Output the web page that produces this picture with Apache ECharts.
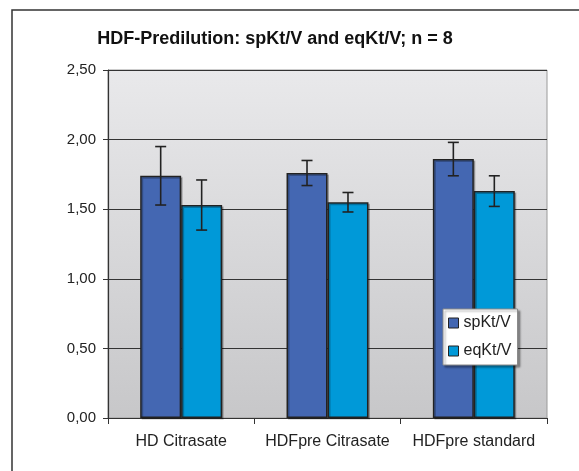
<!DOCTYPE html>
<html><head><meta charset="utf-8">
<script src="https://cdn.jsdelivr.net/npm/echarts@6/dist/echarts.min.js"></script>
<style>html,body{margin:0;padding:0;background:#fff}#c{width:579px;height:471px}</style>
</head><body><div id="c"></div>
<script>
var categories = ['HD Citrasate', 'HDFpre Citrasate', 'HDFpre standard'];
var spKtV = [1.74, 1.76, 1.86];
var spKtVErr = [0.21, 0.09, 0.12];
var eqKtV = [1.53, 1.55, 1.63];
var eqKtVErr = [0.18, 0.07, 0.11];
var yTicks = [0, 0.5, 1.0, 1.5, 2.0, 2.5];

var FONT = 'Liberation Sans, Arial, sans-serif';
var GAP = 0.44;
function errSeries(name, vals, errs, side) {
  return {
    type: 'custom', name: name + ' err', silent: true, z: 10,
    data: vals.map(function (v, i) { return [i, v - errs[i], v + errs[i]]; }),
    renderItem: function (params, api) {
      var bw = api.size([1, 0])[0] * (1 - GAP) / 2;
      var lo = api.coord([api.value(0), api.value(1)]);
      var hi = api.coord([api.value(0), api.value(2)]);
      var x = lo[0] + side * bw / 2;
      var cw = 5.5;
      var st = { stroke: '#222', lineWidth: 1.6 };
      return { type: 'group', children: [
        { type: 'line', shape: { x1: x, y1: lo[1], x2: x, y2: hi[1] }, style: st },
        { type: 'line', shape: { x1: x - cw, y1: lo[1], x2: x + cw, y2: lo[1] }, style: st },
        { type: 'line', shape: { x1: x - cw, y1: hi[1], x2: x + cw, y2: hi[1] }, style: st }
      ]};
    }
  };
}

var chart = echarts.init(document.getElementById('c'));
chart.setOption({
  animation: false,
  textStyle: { fontFamily: FONT },
  graphic: [{
    type: 'rect', z: -10, shape: { x: 12, y: 10, width: 600, height: 500 },
    style: { fill: '#fff', stroke: '#333', lineWidth: 1.5 }
  }],
  title: {
    text: 'HDF-Predilution: spKt/V and eqKt/V; n = 8',
    left: 270, top: 25, textAlign: 'center',
    textStyle: { fontSize: 18, fontWeight: 'bold', color: '#111', fontFamily: FONT }
  },
  grid: {
    left: 108, top: 70, width: 439, height: 348, show: true,
    backgroundColor: new echarts.graphic.LinearGradient(0, 0, 0, 1, [
      { offset: 0, color: '#e9e9eb' }, { offset: 1, color: '#c7c7c9' }]),
    borderColor: '#9a9a9a', borderWidth: 1
  },
  legend: {
    orient: 'vertical', left: 443, top: 309,
    data: ['spKt/V', 'eqKt/V'],
    icon: 'rect',
    itemWidth: 10, itemHeight: 10, itemGap: 12,
    padding: [6, 6, 6, 5],
    backgroundColor: '#fff', borderColor: '#8a8a8a', borderWidth: 1,
    shadowColor: 'rgba(0,0,0,0.35)', shadowOffsetX: 2, shadowOffsetY: 2, shadowBlur: 2,
    textStyle: { fontSize: 16, color: '#222', fontFamily: FONT },
    itemStyle: { borderColor: '#222', borderWidth: 1 }
  },
  xAxis: {
    type: 'category', data: categories, boundaryGap: true,
    axisLine: { lineStyle: { color: '#333', width: 1.2 } },
    axisTick: { show: true, length: 6, lineStyle: { color: '#333' } },
    axisLabel: { fontSize: 16, color: '#222', margin: 16, interval: 0, hideOverlap: false }
  },
  yAxis: {
    type: 'value', min: 0, max: 2.5, interval: 0.5,
    axisLine: { show: true, lineStyle: { color: '#333', width: 1.2 } },
    axisTick: { show: true, length: 5, lineStyle: { color: '#333' } },
    splitLine: { show: true, lineStyle: { color: '#333', width: 1.2 } },
    axisLabel: { fontSize: 15, color: '#222', margin: 12,
      formatter: function (v) { return yTicks.indexOf(v) >= 0 ? v.toFixed(2).replace('.', ',') : ''; } }
  },
  series: [
    { type: 'bar', name: 'spKt/V', data: spKtV, barGap: '0%', barCategoryGap: (GAP * 100) + '%',
      itemStyle: { color: '#4467b2', borderColor: '#222', borderWidth: 1.5,
        shadowColor: 'rgba(0,0,0,0.25)', shadowOffsetX: 1.5, shadowOffsetY: 1.5 } },
    { type: 'bar', name: 'eqKt/V', data: eqKtV, barGap: '0%', barCategoryGap: (GAP * 100) + '%',
      itemStyle: { color: '#0099d8', borderColor: '#222', borderWidth: 1.5,
        shadowColor: 'rgba(0,0,0,0.25)', shadowOffsetX: 1.5, shadowOffsetY: 1.5 } },
    errSeries('spKt/V', spKtV, spKtVErr, -1),
    errSeries('eqKt/V', eqKtV, eqKtVErr, 1)
  ]
});
</script></body></html>
